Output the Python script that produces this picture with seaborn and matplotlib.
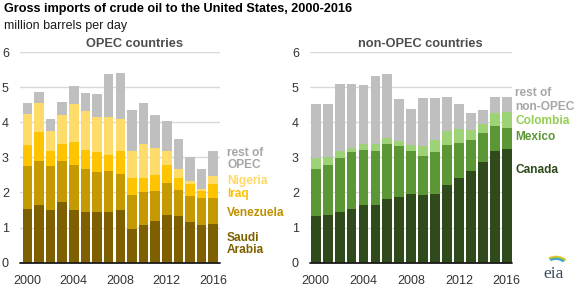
import numpy as np
import pandas as pd
import matplotlib
matplotlib.use("Agg")
import matplotlib.pyplot as plt
from matplotlib.patches import Arc
import seaborn as sns

# ─── DATA (million barrels per day) ───────────────────────────────────────────
years = [str(y) for y in range(2000, 2017)]

# OPEC countries
saudi_arabia = [1.53, 1.63, 1.51, 1.73, 1.51, 1.45, 1.43, 1.45, 1.51, 0.97, 1.08, 1.20, 1.37, 1.34, 1.17, 1.06, 1.11]
venezuela    = [1.23, 1.28, 1.23, 1.18, 1.28, 1.23, 1.14, 1.15, 1.03, 0.97, 0.92, 0.84, 0.91, 0.74, 0.74, 0.77, 0.74]
iraq         = [0.60, 0.80, 0.45, 0.48, 0.66, 0.54, 0.57, 0.48, 0.63, 0.46, 0.42, 0.47, 0.49, 0.34, 0.34, 0.22, 0.40]
nigeria      = [0.88, 0.85, 0.57, 0.82, 1.08, 1.09, 1.02, 1.08, 0.93, 0.77, 0.97, 0.77, 0.40, 0.26, 0.09, 0.06, 0.23]
rest_opec    = [0.32, 0.29, 0.34, 0.37, 0.51, 0.51, 0.63, 1.22, 1.31, 1.19, 1.17, 0.93, 0.87, 0.83, 0.68, 0.57, 0.71]

# non-OPEC countries
canada         = [1.34, 1.37, 1.45, 1.54, 1.63, 1.63, 1.80, 1.88, 1.97, 1.94, 1.97, 2.22, 2.42, 2.60, 2.88, 3.17, 3.25]
mexico         = [1.34, 1.40, 1.52, 1.60, 1.59, 1.56, 1.59, 1.43, 1.20, 1.11, 1.17, 1.12, 1.00, 0.88, 0.80, 0.71, 0.60]
colombia       = [0.31, 0.25, 0.22, 0.14, 0.15, 0.18, 0.15, 0.15, 0.17, 0.26, 0.34, 0.40, 0.39, 0.31, 0.28, 0.37, 0.43]
rest_non_opec  = [1.54, 1.49, 1.89, 1.82, 1.68, 1.96, 1.82, 1.19, 1.05, 1.37, 1.20, 0.99, 0.70, 0.46, 0.40, 0.46, 0.43]

opec_series = [("Saudi Arabia", saudi_arabia, "#7f6000"),
               ("Venezuela", venezuela, "#c49a00"),
               ("Iraq", iraq, "#ffc400"),
               ("Nigeria", nigeria, "#ffdc6a"),
               ("rest of OPEC", rest_opec, "#bfbfbf")]
non_opec_series = [("Canada", canada, "#2f4b1b"),
                   ("Mexico", mexico, "#5b9734"),
                   ("Colombia", colombia, "#9dd277"),
                   ("rest of non-OPEC", rest_non_opec, "#bfbfbf")]

# ─── STYLE ────────────────────────────────────────────────────────────────────
sns.set_style("white")
plt.rcParams["font.family"] = ["Liberation Sans", "DejaVu Sans"]

W, H = 583, 291
fig = plt.figure(figsize=(W / 100, H / 100), dpi=100)


def px_axes(x0, x1, y_top, y_bot):
    return fig.add_axes([x0 / W, 1 - y_bot / H, (x1 - x0) / W, (y_bot - y_top) / H])


def stacked(ax, series, xlim):
    df = pd.DataFrame({"year": years})
    cum = np.zeros(len(years))
    cols = []
    for name, vals, color in series:
        cum = cum + np.array(vals)
        df[name] = cum
        cols.append((name, color))
    # draw tallest stack first so lower segments sit on top
    for name, color in reversed(cols):
        sns.barplot(data=df, x="year", y=name, color=color, saturation=1,
                    width=0.82, ax=ax, linewidth=0)
    ax.set_xlim(*xlim)
    ax.set_ylim(0, 6)
    ax.set_yticks(range(0, 7))
    ax.set_xticks([0, 4, 8, 12, 16])
    ax.set_xticklabels(["2000", "2004", "2008", "2012", "2016"])
    ax.set_xlabel("")
    ax.set_ylabel("")
    for y in range(1, 7):
        ax.axhline(y, color="#d9d9d9", lw=1, zorder=0)
    ax.set_axisbelow(True)
    for s in ax.spines.values():
        s.set_visible(False)
    ax.axhline(0, color="#1a1a1a", lw=1.3, zorder=5, clip_on=False)
    ax.tick_params(axis="both", length=0, labelsize=9, labelcolor="#333333")
    ax.tick_params(axis="y", pad=8)
    ax.tick_params(axis="x", pad=9)


ax1 = px_axes(20, 220, 52, 262.7)
stacked(ax1, opec_series, (-0.63, 16.58))
ax2 = px_axes(310, 512, 52, 262.7)
stacked(ax2, non_opec_series, (-0.48, 16.44))

# ─── TEXT ─────────────────────────────────────────────────────────────────────
def ftext(x, y, s, **kw):
    fig.text(x / W, 1 - y / H, s, va="center", **kw)

ftext(4, 9, "Gross imports of crude oil to the United States, 2000-2016",
      fontsize=9.1, fontweight="bold", color="#000000")
ftext(4, 26, "million barrels per day", fontsize=9, color="#1a1a1a")

ftext(135, 44, "OPEC countries", fontsize=9.2, fontweight="bold",
      color="#4d4d4d", ha="center")
ftext(420, 44, "non-OPEC countries", fontsize=9.2, fontweight="bold",
      color="#4d4d4d", ha="center")

lab = dict(fontsize=8.6, fontweight="bold")
ftext(227, 152.5, "rest of", color="#a6a6a6", **lab)
ftext(227, 165, "OPEC", color="#a6a6a6", **lab)
ftext(227, 181, "Nigeria", color="#ffd966", **lab)
ftext(227, 193.5, "Iraq", color="#ffc000", **lab)
ftext(227, 213.5, "Venezuela", color="#bf9000", **lab)
ftext(227, 238, "Saudi", color="#7f6000", **lab)
ftext(227, 250, "Arabia", color="#7f6000", **lab)

ftext(515, 93.5, "rest of", color="#a6a6a6", **lab)
ftext(515, 106.5, "non-OPEC", color="#a6a6a6", **lab)
ftext(515, 121, "Colombia", color="#92d050", **lab)
ftext(515, 137.5, "Mexico", color="#5b9734", **lab)
ftext(515, 170, "Canada", color="#2f4b1b", **lab)

# eia logo
ftext(554, 274, "eia", fontsize=12.5, color="#3b4a5a", ha="center",
      family=["Liberation Serif", "DejaVu Serif"])
logo = fig.add_axes([540 / W, 1 - 266 / H, 30 / W, 14 / H])
logo.set_axis_off()
logo.set_xlim(0, 30)
logo.set_ylim(0, 14)
for r, c in [(13, "#f2c230"), (11.5, "#8cc63f"), (10, "#3aa0d8")]:
    logo.add_patch(Arc((16, -1), 2 * r, 2 * r * 0.8, theta1=35, theta2=130,
                       color=c, lw=1.3))

fig.savefig("out.png", dpi=100)
